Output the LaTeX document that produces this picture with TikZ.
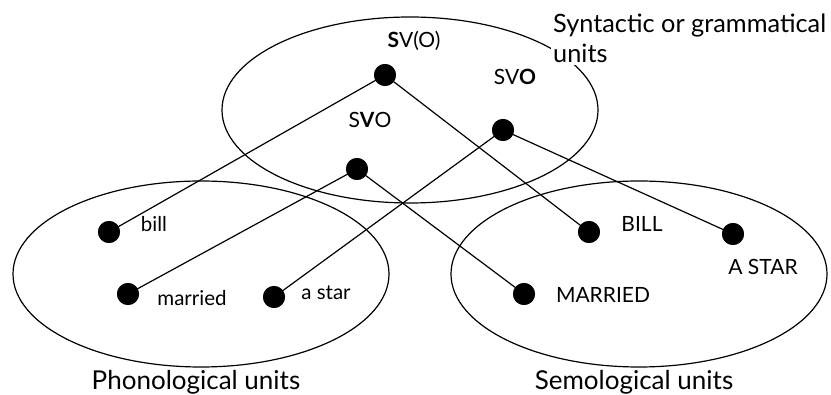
\documentclass[tikz,border=0pt]{standalone}
\usepackage{fontspec}
\setmainfont{Lato}
\begin{document}
\begin{tikzpicture}[x=1pt,y=-1pt,
  unit/.style={draw,line width=1.2pt},
  dot/.style={circle,fill=black,inner sep=0pt,minimum size=22pt},
  link/.style={line width=1.2pt},
  biglab/.style={font=\fontsize{26}{30}\selectfont,inner sep=1pt,anchor=base},
  midlab/.style={font=\fontsize{21}{25}\selectfont,inner sep=0pt,anchor=base},
  smalllab/.style={font=\fontsize{20.5}{25}\selectfont,inner sep=0pt,anchor=base}]
\useasboundingbox (0,0) rectangle (831,395);
% ellipses
\draw[unit] (410,110) ellipse [x radius=188pt, y radius=93pt];
\draw[unit] (201,274) ellipse [x radius=188pt, y radius=93pt];
\draw[unit] (639,274) ellipse [x radius=188pt, y radius=93pt];
% group labels
\node[biglab,font=\fontsize{25.3}{30}\selectfont,fill=white,align=left,anchor=base west,inner sep=2pt] (syn) at (551,63) {Syntactic or grammatical\\units};
\node[biglab] (pho) at (196,390) {Phonological units};
\node[biglab] (sem) at (634,390) {Semological units};
% dots
\node[dot] (svo1) at (385,75) {};
\node[dot] (svo3) at (503,130) {};
\node[dot] (svo2) at (357,169) {};
\node[dot] (pbill) at (109,232) {};
\node[dot] (pmar) at (128,294) {};
\node[dot] (pstar) at (274,297) {};
\node[dot] (sbill) at (589,232) {};
\node[dot] (sstar) at (733,234) {};
\node[dot] (smar) at (524,294) {};
% links
\draw[link] (svo1.center) -- (pbill.center);
\draw[link] (svo1.center) -- (sbill.center);
\draw[link] (svo3.center) -- (pstar.center);
\draw[link] (svo3.center) -- (sstar.center);
\draw[link] (svo2.center) -- (pmar.center);
\draw[link] (svo2.center) -- (smar.center);
% dots drawn again on top of the links
\foreach \n in {svo1,svo3,svo2,pbill,pmar,pstar,sbill,sstar,smar}
  \fill (\n) circle [radius=11pt];
% unit labels
\node[midlab] (lsvo1) at (414,48) {\textbf{S}V(O)};
\node[midlab] (lsvo3) at (515,85) {SV\textbf{O}};
\node[midlab] (lsvo2) at (370,128) {S\textbf{V}O};
\node[smalllab] (lpbill) at (154,232) {bill};
\node[smalllab] (lpmar) at (192,306) {married};
\node[smalllab] (lpstar) at (326,300) {a star};
\node[midlab] (lsbill) at (642,232) {BILL};
\node[midlab] (lsstar) at (763,275) {A STAR};
\node[midlab] (lsmar) at (603,303) {MARRIED};
\end{tikzpicture}
\end{document}
